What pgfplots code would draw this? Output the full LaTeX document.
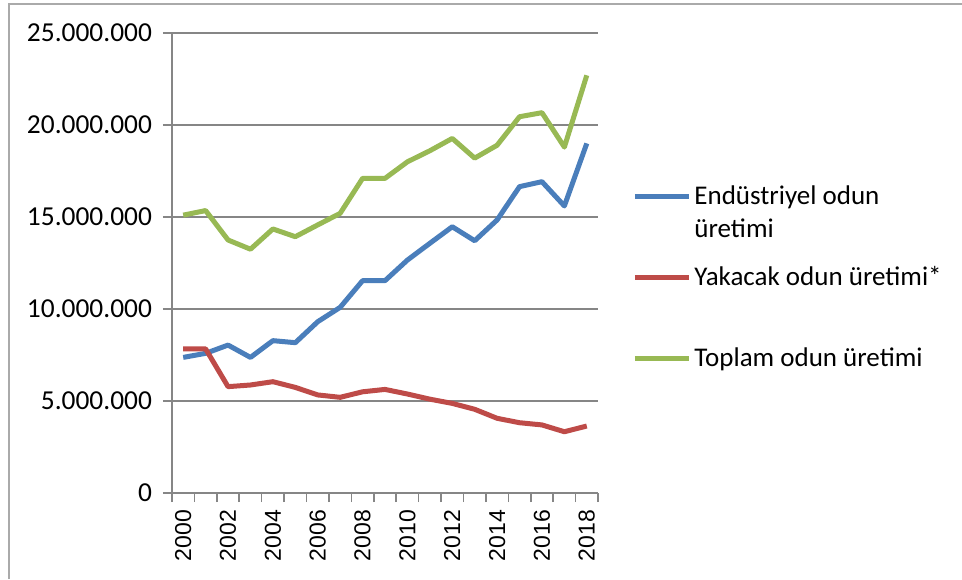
\documentclass[border=0pt]{standalone}
\usepackage{pgfplots}
\pgfplotsset{compat=1.18}
\usepackage{fontspec}
\setmainfont{Carlito}
\newfontfamily\arialfont{Liberation Sans}
\definecolor{cblue}{HTML}{4A7EBB}
\definecolor{cred}{HTML}{BE4B48}
\definecolor{cgreen}{HTML}{98B954}
\definecolor{cgrid}{HTML}{868686}
\begin{document}
\begin{tikzpicture}
\path[use as bounding box] (-86pt,-43pt) rectangle (395pt,246.5pt);
\draw[cgrid!70, line width=1pt] (-81.5pt,-43pt) -- (-81.5pt,244.5pt) -- (395pt,244.5pt);
\begin{axis}[
  scale only axis,
  width=213pt, height=230pt,
  xmin=1999.5, xmax=2018.5,
  ymin=0, ymax=25000000,
  axis lines*=left,
  axis line style={draw=cgrid, line width=0.8pt},
  ymajorgrids,
  grid style={draw=cgrid, line width=0.8pt},
  ytick={0,5000000,...,25000000},
  scaled y ticks=false,
  yticklabel style={font=\fontsize{13.7}{15}\selectfont, /pgf/number format/.cd, fixed, 1000 sep={.}, assume math mode=true},
  xtick={2000,2002,...,2018},
  x tick style={draw=none},
  minor xtick={1999.5,2000.5,...,2018.5},
  minor x tick style={draw=cgrid, line width=0.8pt},
  y tick style={draw=cgrid, line width=0.8pt},
  major tick length=4.5pt, minor tick length=4.5pt,
  tick align=outside,
  xticklabel style={rotate=90, anchor=east, font=\arialfont\fontsize{11.5}{13}\selectfont, /pgf/number format/.cd, 1000 sep={}, assume math mode=true},
  xticklabel shift=0.5pt,
  yticklabel shift=2pt,
  legend cell align=left,
  legend style={draw=none, fill=none, at={(rel axis cs:1,0.685)}, anchor=north west, xshift=17pt, yshift=-1.5pt, inner sep=0pt, row sep=7.5pt, font=\fontsize{13.5}{16.5}\selectfont, nodes={inner sep=1.5pt, text depth=20pt, text height=10pt}},
  legend image code/.code={\draw[#1] (0pt,0.3em+6pt) -- (27pt,0.3em+6pt);},
  every axis plot/.append style={line width=2.5pt, line join=round},
]
\addplot[cblue] coordinates {
(2000,7370000) (2001,7590000) (2002,8040000) (2003,7370000) (2004,8280000)
(2005,8170000) (2006,9310000) (2007,10090000) (2008,11540000) (2009,11540000)
(2010,12660000) (2011,13570000) (2012,14470000) (2013,13710000) (2014,14840000)
(2015,16650000) (2016,16920000) (2017,15600000) (2018,19000000)};
\addlegendentry{\begin{tabular}[t]{@{}l@{}}Endüstriyel odun\\ üretimi\end{tabular}}
\addplot[cred] coordinates {
(2000,7830000) (2001,7830000) (2002,5780000) (2003,5870000) (2004,6050000)
(2005,5740000) (2006,5330000) (2007,5200000) (2008,5500000) (2009,5630000)
(2010,5380000) (2011,5100000) (2012,4870000) (2013,4550000) (2014,4060000)
(2015,3820000) (2016,3700000) (2017,3330000) (2018,3640000)};
\addlegendentry{Yakacak odun üretimi*}
\addplot[cgreen] coordinates {
(2000,15100000) (2001,15350000) (2002,13750000) (2003,13250000) (2004,14350000)
(2005,13930000) (2006,14570000) (2007,15200000) (2008,17100000) (2009,17100000)
(2010,18000000) (2011,18600000) (2012,19270000) (2013,18200000) (2014,18900000)
(2015,20450000) (2016,20670000) (2017,18800000) (2018,22700000)};
\addlegendentry{Toplam odun üretimi}
\end{axis}
\end{tikzpicture}
\end{document}
